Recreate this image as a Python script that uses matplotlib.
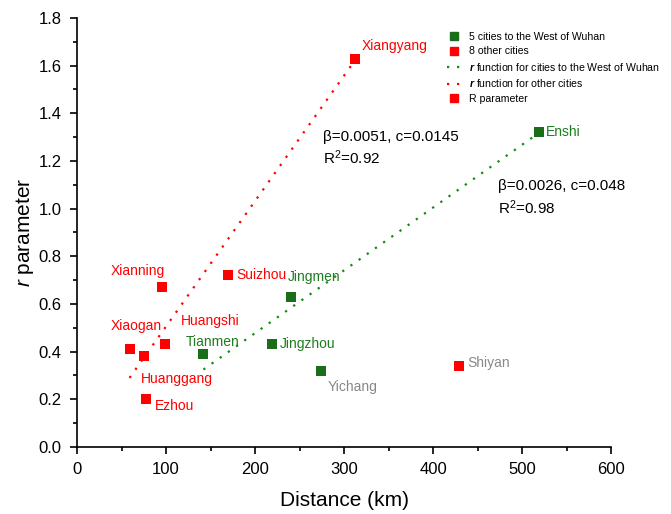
import matplotlib
matplotlib.use("Agg")
import matplotlib.pyplot as plt
from matplotlib.lines import Line2D
from matplotlib.ticker import MultipleLocator

plt.rcParams['font.family'] = ['Liberation Sans', 'DejaVu Sans']
plt.rcParams['mathtext.fontset'] = 'custom'
plt.rcParams['mathtext.rm'] = 'Liberation Sans'
plt.rcParams['mathtext.it'] = 'Liberation Sans:italic'
plt.rcParams['mathtext.bf'] = 'Liberation Sans:bold'
plt.rcParams['mathtext.bfit'] = 'Liberation Sans:bold:italic'

# data
west_names = ['Enshi', 'Jingmen', 'Tianmen', 'Jingzhou', 'Yichang']
west_dist = [519, 240, 141, 219, 274]
west_r = [1.32, 0.63, 0.39, 0.43, 0.32]

other_names = ['Xiangyang', 'Xianning', 'Suizhou', 'Xiaogan', 'Huanggang',
               'Huangshi', 'Ezhou', 'Shiyan']
other_dist = [312, 96, 170, 59, 75, 99, 78, 429]
other_r = [1.63, 0.67, 0.72, 0.41, 0.38, 0.43, 0.20, 0.34]

# fitted r functions (endpoints)
west_fit_x = [142, 516]
west_fit_y = [0.325, 1.31]
other_fit_x = [59, 308]
other_fit_y = [0.29, 1.60]

red = '#ff0000'
dgreen = '#1a6e1a'
tgreen = '#1e7d1e'
grey = '#888888'

# label offsets in points (dx, dy, ha, colour)
label_style = {
    'Xiangyang': (5, 9, 'left', red),
    'Xianning': (-18, 12, 'center', red),
    'Suizhou': (6, 0, 'left', red),
    'Xiaogan': (5, 17, 'center', red),
    'Huanggang': (-2, -16, 'left', red),
    'Huangshi': (11, 17, 'left', red),
    'Ezhou': (6, -5, 'left', red),
    'Shiyan': (6, 2, 'left', grey),
    'Enshi': (5, 0, 'left', tgreen),
    'Jingmen': (-2, 14, 'left', tgreen),
    'Tianmen': (-12, 9, 'left', tgreen),
    'Jingzhou': (6, 0, 'left', tgreen),
    'Yichang': (5, -12, 'left', grey),
}

fig = plt.figure(figsize=(6.71, 5.14), dpi=100)
ax = fig.add_axes([0.1148, 0.1304, 0.7958, 0.8346])

ax.plot(other_fit_x, other_fit_y, color=red, linestyle=(0, (1, 3.5)), linewidth=1.6)
ax.plot(west_fit_x, west_fit_y, color='#108a10', linestyle=(0, (1, 3.5)), linewidth=1.6)

ax.scatter(other_dist, other_r, marker='s', s=45, color=red, zorder=3, linewidths=0)
ax.scatter(west_dist, west_r, marker='s', s=45, color=dgreen, zorder=3, linewidths=0)

for name, x, y in zip(other_names + west_names, other_dist + west_dist, other_r + west_r):
    dx, dy, ha, col = label_style[name]
    ax.annotate(name, (x, y), xytext=(dx, dy), textcoords='offset points',
                ha=ha, va='center', fontsize=10, color=col)

ax.text(276, 1.30, 'β=0.0051, c=0.0145', fontsize=11, va='center')
ax.text(276, 1.215, 'R$^2$=0.92', fontsize=11, va='center')
ax.text(473, 1.095, 'β=0.0026, c=0.048', fontsize=11, va='center')
ax.text(473, 1.005, 'R$^2$=0.98', fontsize=11, va='center')

ax.set_xlim(0, 600)
ax.set_ylim(0, 1.8)
ax.xaxis.set_major_locator(MultipleLocator(100))
ax.xaxis.set_minor_locator(MultipleLocator(50))
ax.yaxis.set_major_locator(MultipleLocator(0.2))
ax.yaxis.set_minor_locator(MultipleLocator(0.1))
ax.yaxis.set_major_formatter(matplotlib.ticker.FormatStrFormatter('%.1f'))
ax.tick_params(which='major', direction='out', length=5, width=1.2, labelsize=12, pad=6)
ax.tick_params(which='minor', direction='out', length=3, width=1.2)
ax.spines['top'].set_visible(False)
ax.spines['right'].set_visible(False)
ax.spines['left'].set_linewidth(1.2)
ax.spines['bottom'].set_linewidth(1.2)

ax.set_xlabel('Distance (km)', fontsize=15, labelpad=10)
ax.set_ylabel('$r$ parameter', fontsize=15, labelpad=2)

handles = [
    Line2D([], [], marker='s', color=dgreen, linestyle='none', markersize=6),
    Line2D([], [], marker='s', color=red, linestyle='none', markersize=6),
    Line2D([], [], color='#108a10', linestyle=(0, (1, 3.5)), linewidth=1.6),
    Line2D([], [], color=red, linestyle=(0, (1, 3.5)), linewidth=1.6),
    Line2D([], [], marker='s', color=red, linestyle='none', markersize=6),
]
labels = ['5 cities to the West of Wuhan', '8 other cities',
          r'$\mathbfit{r}$ function for cities to the West of Wuhan',
          r'$\mathbfit{r}$ function for other cities', 'R parameter']
fig.legend(handles, labels, loc='upper left', bbox_to_anchor=(0.658, 0.948),
           frameon=False, fontsize=7.6, handlelength=1.3, handletextpad=0.8,
           labelspacing=0.42, borderpad=0)

fig.savefig('out.png', dpi=100)
